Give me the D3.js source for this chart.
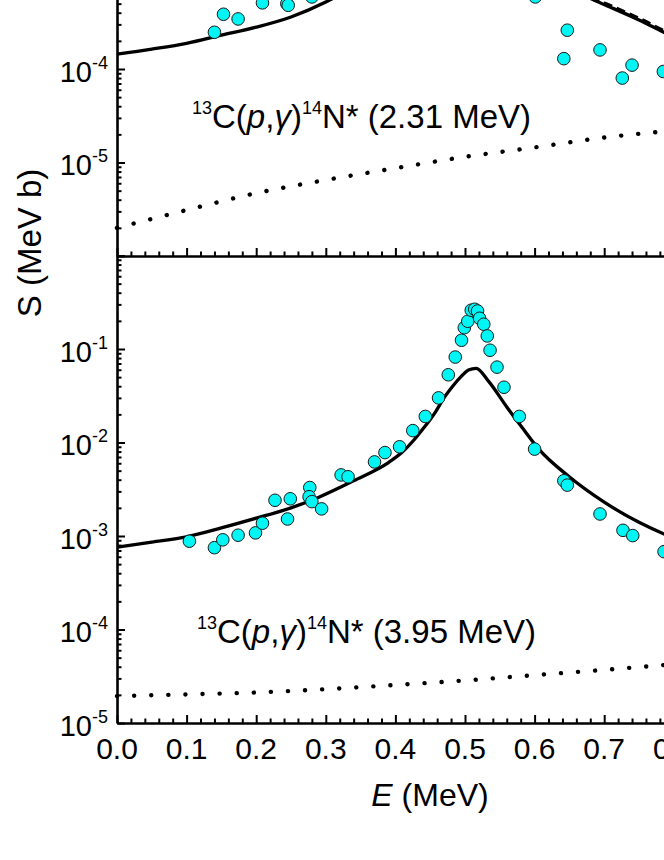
<!DOCTYPE html>
<html>
<head>
<meta charset="utf-8">
<script src="https://cdn.jsdelivr.net/npm/d3@7"></script>
<style>
  body { margin: 0; background: #fff; }
  svg { display: block; font-family: "Liberation Sans", Arial, sans-serif; }
</style>
</head>
<body>
<script>
// values (E in MeV, S in MeV b)

// x axis
var xMajor = [0.0, 0.1, 0.2, 0.3, 0.4, 0.5, 0.6, 0.7, 0.8, 0.9, 1.0];
var xLabels = ["0.0", "0.1", "0.2", "0.3", "0.4", "0.5", "0.6", "0.7", "0.8", "0.9", "1.0"];

// upper panel: 13C(p,g)14N* (2.31 MeV)
var upE   = [0.00, 0.05, 0.10, 0.15, 0.20, 0.25, 0.30, 0.35, 0.40, 0.45, 0.50, 0.52, 0.55, 0.60, 0.65, 0.68, 0.70, 0.75, 0.80, 0.85];
var upFit = [1.44e-4, 1.63e-4, 1.88e-4, 2.3e-4, 2.8e-4, 3.6e-4, 5.2e-4, 8.5e-4, 1.6e-3, 4.0e-3, 1.3e-2, 1.6e-2, 9.0e-3, 2.5e-3, 8.0e-4, 5.7e-4, 4.9e-4, 3.35e-4, 2.2e-4, 1.6e-4];
var upDashE = [0.60, 0.65, 0.68, 0.70, 0.75, 0.80, 0.85];
var upDash  = [2.6e-3, 8.3e-4, 5.9e-4, 5.1e-4, 3.5e-4, 2.3e-4, 1.67e-4];
var upDirE = [0.0, 0.1, 0.2, 0.3, 0.4, 0.5, 0.6, 0.7, 0.8, 0.9];
var upDir  = [2.0e-6, 3.1e-6, 4.7e-6, 6.5e-6, 8.7e-6, 1.15e-5, 1.45e-5, 1.85e-5, 2.2e-5, 2.6e-5];
var upExpE = [0.140, 0.153, 0.174, 0.209, 0.244, 0.246, 0.280, 0.33, 0.40, 0.46, 0.50, 0.52, 0.55, 0.601, 0.642, 0.647, 0.694, 0.726, 0.740, 0.785];
var upExp  = [2.47e-4, 3.85e-4, 3.43e-4, 5.1e-4, 5.0e-4, 4.8e-4, 5.9e-4, 1.1e-3, 2.6e-3, 9.0e-3, 3.5e-2, 4.2e-2, 1.2e-2, 5.9e-4, 1.29e-4, 2.6e-4, 1.6e-4, 8.0e-5, 1.1e-4, 9.4e-5];

// lower panel: 13C(p,g)14N* (3.95 MeV)
var loE   = [0.00, 0.05, 0.10, 0.15, 0.20, 0.25, 0.29, 0.34, 0.39, 0.41, 0.426, 0.44, 0.457, 0.47, 0.482, 0.495, 0.505, 0.516, 0.534, 0.56, 0.581, 0.606, 0.648, 0.70, 0.75, 0.80, 0.85];
var loFit = [7.6e-4, 8.6e-4, 9.8e-4, 1.22e-3, 1.55e-3, 2.0e-3, 2.6e-3, 3.9e-3, 6.1e-3, 7.9e-3, 1.05e-2, 1.41e-2, 2.09e-2, 3.02e-2, 3.98e-2, 5.13e-2, 5.96e-2, 6.22e-2, 4.5e-2, 2.4e-2, 1.48e-2, 8.5e-3, 4.4e-3, 2.3e-3, 1.4e-3, 9.5e-4, 7.0e-4];
var loDirE = [0.0, 0.1, 0.2, 0.3, 0.4, 0.5, 0.6, 0.7, 0.8, 0.9];
var loDir  = [1.94e-5, 2.02e-5, 2.12e-5, 2.3e-5, 2.55e-5, 2.85e-5, 3.25e-5, 3.7e-5, 4.25e-5, 4.9e-5];
var loExpE = [0.104, 0.140, 0.152, 0.174, 0.199, 0.209, 0.227, 0.245, 0.249, 0.277, 0.276, 0.280, 0.294, 0.322, 0.332, 0.370, 0.385, 0.406, 0.425, 0.443, 0.462, 0.476, 0.486, 0.495, 0.499, 0.504, 0.509, 0.514, 0.518, 0.521, 0.527, 0.532, 0.536, 0.546, 0.556, 0.578, 0.600, 0.642, 0.647, 0.694, 0.727, 0.741, 0.786];
var loExp  = [8.8e-4, 7.5e-4, 9.1e-4, 1.02e-3, 1.08e-3, 1.37e-3, 2.41e-3, 1.52e-3, 2.5e-3, 3.3e-3, 2.63e-3, 2.33e-3, 1.95e-3, 4.5e-3, 4.3e-3, 6.2e-3, 7.8e-3, 9.0e-3, 1.34e-2, 1.9e-2, 3.0e-2, 5.3e-2, 8.2e-2, 0.124, 0.169, 0.198, 0.26, 0.266, 0.255, 0.213, 0.184, 0.138, 0.097, 0.064, 0.039, 0.019, 8.5e-3, 3.9e-3, 3.5e-3, 1.72e-3, 1.15e-3, 1.01e-3, 6.8e-4];

// y ticks (decades) and the ones that carry a label
var upDecades = [1e-6, 1e-5, 1e-4, 1e-3, 1e-2, 1e-1];
var upLabelVals = [1e-5, 1e-4];
var upLabels    = ["-5", "-4"];
var loDecades = [1e-5, 1e-4, 1e-3, 1e-2, 1e-1, 1];
var loLabelVals = [1e-5, 1e-4, 1e-3, 1e-2, 1e-1];
var loLabels    = ["-5", "-4", "-3", "-2", "-1"];

var W = 664, H = 860;
var left = 117, right = 813;
var divide = 256, bottom = 723, dec = 93.5;

var svg = d3.select("body").append("svg")
  .attr("width", W).attr("height", H);

var x = d3.scaleLinear().domain([0, 1.0]).range([left, right]);
var yUp = d3.scaleLog().domain([1e-6, 1e-1]).range([divide, divide - 5 * dec]);
var yLo = d3.scaleLog().domain([1e-5, 1]).range([bottom, bottom - 5 * dec]);

function minors(decades) {
  var out = [];
  decades.slice(0, -1).forEach(function(d) {
    for (var k = 2; k <= 9; k++) out.push(d * k);
  });
  return out;
}

function zip(a, b) { return a.map(function(v, i) { return [v, b[i]]; }); }

function drawPanel(y, decades, labelVals, labels, fit, dash, dir, exp, base) {
  var line = d3.line()
    .x(function(d) { return x(d[0]); })
    .y(function(d) { return y(d[1]); })
    .curve(d3.curveMonotoneX);

  // dotted curve
  svg.append("path").datum(dir)
    .attr("d", line).attr("fill", "none")
    .attr("stroke", "#000").attr("stroke-width", 4.4)
    .attr("stroke-linecap", "round")
    .attr("stroke-dasharray", "0.1 17");

  if (dash) {
    svg.append("path").datum(dash)
      .attr("d", line).attr("fill", "none")
      .attr("stroke", "#000").attr("stroke-width", 3)
      .attr("stroke-dasharray", "9 5");
  }

  svg.append("path").datum(fit)
    .attr("d", line).attr("fill", "none")
    .attr("stroke", "#000").attr("stroke-width", 3.3);

  svg.append("g").selectAll("circle")
    .data(exp).enter().append("circle")
    .attr("cx", function(d) { return x(d[0]); })
    .attr("cy", function(d) { return y(d[1]); })
    .attr("r", 6.3)
    .attr("fill", "#00f5f5")
    .attr("stroke", "#1a1a1a").attr("stroke-width", 1);

  // left axis: major + minor, ticks pointing inward
  var gy = svg.append("g").attr("transform", "translate(" + left + ",0)");
  gy.call(d3.axisLeft(y).tickValues(decades).tickSizeInner(-8).tickSizeOuter(0).tickFormat(""));
  svg.append("g").attr("transform", "translate(" + left + ",0)")
    .call(d3.axisLeft(y).tickValues(minors(decades)).tickSizeInner(-4.5).tickSizeOuter(0).tickFormat(""))
    .select(".domain").remove();
  gy.select(".domain").attr("stroke-width", 2.6);

  // bottom axis of the panel
  var gx = svg.append("g").attr("transform", "translate(0," + base + ")");
  gx.call(d3.axisBottom(x).tickValues(xMajor).tickSizeInner(-8).tickSizeOuter(0).tickFormat(""));
  gx.select(".domain").attr("stroke-width", 2.6);
  var xMinor = d3.range(1, 50).map(function(i) { return i * 0.02; })
    .filter(function(v) { return Math.abs(v * 10 - Math.round(v * 10)) > 1e-6; });
  svg.append("g").attr("transform", "translate(0," + base + ")")
    .call(d3.axisBottom(x).tickValues(xMinor).tickSizeInner(-4.5).tickSizeOuter(0).tickFormat(""))
    .select(".domain").remove();

  svg.selectAll(".tick line").attr("stroke-width", 2);

  // y tick labels 10^n
  var lab = svg.append("g").selectAll("text")
    .data(labelVals.map(function(d, i) { return [d, labels[i]]; }))
    .enter().append("text")
    .attr("x", 108)
    .attr("y", function(d) { return y(d[0]) + 12.5; })
    .attr("text-anchor", "end")
    .attr("font-size", 29);
  lab.append("tspan").text("10");
  lab.append("tspan").attr("dy", -13).attr("font-size", 18).text(function(d) { return d[1]; });
}

drawPanel(yUp, upDecades, upLabelVals, upLabels, zip(upE, upFit), zip(upDashE, upDash), zip(upDirE, upDir), zip(upExpE, upExp), divide);
drawPanel(yLo, loDecades, loLabelVals, loLabels, zip(loE, loFit), null, zip(loDirE, loDir), zip(loExpE, loExp), bottom);

// x tick labels
svg.append("g").selectAll("text")
  .data(xMajor).enter().append("text")
  .attr("x", function(d) { return x(d); })
  .attr("y", bottom + 36)
  .attr("text-anchor", "middle")
  .attr("font-size", 30)
  .text(function(d, i) { return xLabels[i]; });

// axis titles
var xt = svg.append("text")
  .attr("x", 430).attr("y", 806)
  .attr("text-anchor", "middle").attr("font-size", 32);
xt.append("tspan").attr("font-style", "italic").text("E");
xt.append("tspan").text(" (MeV)");

svg.append("text")
  .attr("transform", "translate(41,243) rotate(-90)")
  .attr("text-anchor", "middle").attr("font-size", 33)
  .text("S (MeV b)");

// reaction labels
function reaction(xp, yp, energy) {
  var t = svg.append("text").attr("x", xp).attr("y", yp).attr("font-size", 33);
  t.append("tspan").attr("font-size", 18).attr("dy", -14).text("13");
  t.append("tspan").attr("dy", 14).text("C(");
  t.append("tspan").attr("font-style", "italic").text("p");
  t.append("tspan").text(",");
  t.append("tspan").attr("font-style", "italic").text("γ");
  t.append("tspan").text(")");
  t.append("tspan").attr("font-size", 18).attr("dy", -14).text("14");
  t.append("tspan").attr("dy", 14).text("N* (" + energy + " MeV)");
}
reaction(192, 128, "2.31");
reaction(197, 643, "3.95");
</script>
</body>
</html>
